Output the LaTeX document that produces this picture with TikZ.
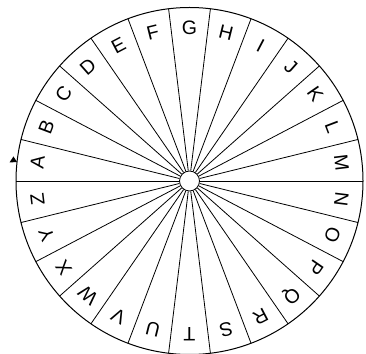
\documentclass[tikz,border=0pt]{standalone}
\usepackage{fontspec}
\setmainfont{Liberation Sans}
\usepackage{tikz}
\usetikzlibrary{positioning}
\tikzset{
  rim/.style={draw, line width=1pt},
  spoke/.style={draw, line width=0.8pt},
  hub/.style={draw, circle, fill=white, minimum size=20pt, inner sep=0pt, line width=0.8pt},
  letter/.style={font=\fontsize{19.5}{21}\selectfont, inner sep=0pt},
  pointer/.style={fill=black}
}

\begin{document}
\begin{tikzpicture}[x=1pt,y=1pt]
  \useasboundingbox (0,0) rectangle (366,353);
  \coordinate (c) at (189.5,172);
  \node[hub] (hub) at (c) {};
  \draw[rim] (c) circle (173.5);
  % spokes
  \foreach \i in {0,...,25}
    \path (c) ++(\i*360/26:173.5) coordinate (r\i);
  \foreach \i in {0,...,25}
    \draw[spoke] (hub) -- (r\i);
  % letters, clockwise from A
  \foreach \l [count=\i from 0] in {A,B,C,D,E,F,G,H,I,J,K,L,M,N,O,P,Q,R,S,T,U,V,W,X,Y,Z} {
    \pgfmathsetmacro\a{173.0769-13.8462*\i}
    \path (c) ++(\a:153) node[letter, rotate=\a-90] (\l) {\l};
  }
  % pointer
  \coordinate (p1) at (9.5,190.5);
  \coordinate (p2) at (13.5,196.5);
  \coordinate (p3) at (17,191);
  \fill[pointer] (p1) -- (p2) -- (p3) -- cycle;
\end{tikzpicture}
\end{document}
